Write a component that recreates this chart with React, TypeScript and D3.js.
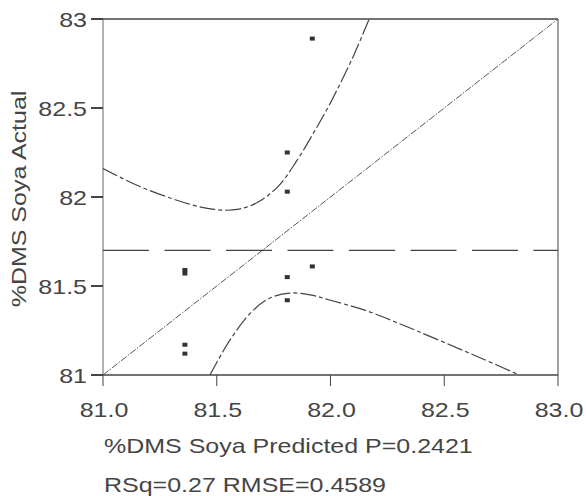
import * as d3 from "d3";

// observed points (predicted, actual)
const predicted = [81.36, 81.36, 81.36, 81.36, 81.81, 81.81, 81.81, 81.81, 81.92, 81.92];
const actual = [81.59, 81.57, 81.17, 81.12, 82.25, 82.03, 81.55, 81.42, 81.61, 82.89];

// confidence curves
const upperX = [81.0, 81.16, 81.38, 81.49, 81.59, 81.68, 81.77, 81.85, 81.93, 82.0, 82.1, 82.17];
const upperY = [82.16, 82.06, 81.96, 81.93, 81.93, 81.97, 82.06, 82.2, 82.37, 82.53, 82.79, 83.0];
const lowerX = [81.47, 81.56, 81.65, 81.73, 81.82, 81.91, 82.0, 82.16, 82.3, 82.45, 82.67, 82.83];
const lowerY = [81.0, 81.2, 81.35, 81.43, 81.46, 81.45, 81.42, 81.36, 81.29, 81.21, 81.09, 81.0];

const meanActual = 81.7;
const xTicks = [81.0, 81.5, 82.0, 82.5, 83.0];
const yTicks = [81, 81.5, 82, 82.5, 83];

const xLabel = "%DMS Soya Predicted P=0.2421";
const yLabel = "%DMS Soya Actual";
const statsLabel = "RSq=0.27 RMSE=0.4589";

export default function App() {
  const width = 586;
  const height = 496;
  const left = 103;
  const right = 558;
  const top = 19;
  const bottom = 375;
  const ink = "#454545";
  const font = "'Liberation Sans', Arial, sans-serif";
  const fs = 21;
  const sx = 1.19;

  const x = d3.scaleLinear().domain([81, 83]).range([left, right]);
  const y = d3.scaleLinear().domain([81, 83]).range([bottom, top]);

  const line = d3
    .line<[number, number]>()
    .x((d) => x(d[0]))
    .y((d) => y(d[1]))
    .curve(d3.curveCatmullRom);

  const upper = upperX.map((v, i) => [v, upperY[i]] as [number, number]);
  const lower = lowerX.map((v, i) => [v, lowerY[i]] as [number, number]);

  return (
    <svg
      width={width}
      height={height}
      style={{ position: "absolute", left: 0, top: 0, background: "#fff" }}
    >
      <defs>
        <clipPath id="plot">
          <rect x={left} y={top} width={right - left} height={bottom - top} />
        </clipPath>
      </defs>

      {/* frame */}
      <line x1={left} x2={right} y1={top} y2={top} stroke={ink} strokeWidth={1.5} />
      <line x1={right} x2={right} y1={top} y2={bottom} stroke={ink} strokeWidth={1} />
      <line x1={left} x2={left} y1={top} y2={bottom} stroke="#666" strokeWidth={1} />
      <line x1={left} x2={right} y1={bottom} y2={bottom} stroke={ink} strokeWidth={1.5} />

      {/* y axis */}
      {yTicks.map((t) => (
        <g key={"y" + t}>
          <line x1={left - 12} x2={left} y1={y(t)} y2={y(t)} stroke={ink} strokeWidth={2} />
          <text
            transform={`translate(${left - 16},${y(t) + 7.5}) scale(${sx},1)`}
            textAnchor="end"
            fontFamily={font}
            fontSize={fs}
            fill={ink}
          >
            {d3.format("~g")(t)}
          </text>
        </g>
      ))}

      {/* x axis */}
      {xTicks.map((t) => (
        <g key={"x" + t}>
          <line x1={x(t)} x2={x(t)} y1={bottom} y2={bottom + 11} stroke={ink} strokeWidth={1} />
          <text
            transform={`translate(${x(t) + 1},417) scale(${sx},1)`}
            textAnchor="middle"
            fontFamily={font}
            fontSize={fs}
            fill={ink}
          >
            {d3.format(".1f")(t)}
          </text>
        </g>
      ))}

      <g clipPath="url(#plot)">
        {/* fit line */}
        <line
          x1={x(81)}
          y1={y(81)}
          x2={x(83)}
          y2={y(83)}
          stroke="#555"
          strokeWidth={1}
          strokeDasharray="7,1.5,1.5,1.5"
        />
        {/* mean line */}
        <line
          x1={left}
          x2={right}
          y1={y(meanActual)}
          y2={y(meanActual)}
          stroke="#444"
          strokeWidth={1.4}
          strokeDasharray="46,15.5"
        />
        {/* confidence curves */}
        <path d={line(upper) || ""} fill="none" stroke="#444" strokeWidth={1.2} strokeDasharray="16,3,4,3" />
        <path d={line(lower) || ""} fill="none" stroke="#444" strokeWidth={1.2} strokeDasharray="16,3,4,3" />
      </g>

      {/* points */}
      {predicted.map((p, i) => (
        <rect
          key={i}
          x={x(p) - 2.5}
          y={y(actual[i]) - 2}
          width={5}
          height={4}
          fill="#333"
        />
      ))}

      {/* titles */}
      <text
        transform={`translate(104,453) scale(${sx},1)`}
        fontFamily={font}
        fontSize={fs}
        fill={ink}
      >
        {xLabel}
      </text>
      <text
        transform={`translate(104,492) scale(${sx},1)`}
        fontFamily={font}
        fontSize={fs}
        fill={ink}
      >
        {statsLabel}
      </text>
      <text
        transform={`translate(26,${(top + bottom) / 2 + 2}) rotate(-90) scale(${sx},1)`}
        textAnchor="middle"
        fontFamily={font}
        fontSize={fs}
        fill={ink}
      >
        {yLabel}
      </text>
    </svg>
  );
}
